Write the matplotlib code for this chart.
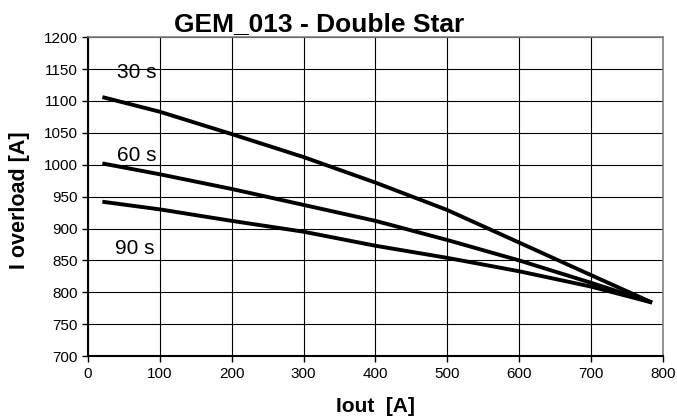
import matplotlib
matplotlib.use('Agg')
from matplotlib import pyplot as plt
import numpy as np

# Data
iout = [20, 100, 200, 300, 400, 500, 600, 700, 785]
i_30s = [1106, 1083, 1048, 1012, 972, 929, 878, 827, 784]
i_60s = [1002, 985, 962, 937, 912, 882, 850, 815, 784]
i_90s = [942, 930, 912, 895, 873, 854, 833, 809, 784]

curve_labels = ['30 s', '60 s', '90 s']
label_pos = [(40, 1145), (40, 1015), (38, 868)]

x_ticks = np.arange(0, 801, 100)
y_ticks = np.arange(700, 1201, 50)

plt.rcParams['font.family'] = ['Liberation Sans', 'DejaVu Sans']

fig = plt.figure(figsize=(6.77, 4.17), dpi=100)
ax = fig.add_axes([0.130, 0.146, 0.849, 0.765])

for series in (i_30s, i_60s, i_90s):
    ax.plot(iout, series, color='black', linewidth=2.8, solid_capstyle='butt', zorder=3)

for text, (tx, ty) in zip(curve_labels, label_pos):
    ax.text(tx, ty, text, fontsize=15, ha='left', va='center', zorder=4)

ax.set_xlim(0, 800)
ax.set_ylim(700, 1200)
ax.set_xticks(x_ticks)
ax.set_yticks(y_ticks)
ax.tick_params(direction='out', length=4, width=1, labelsize=11, colors='black')
ax.grid(True, color='black', linewidth=0.8)
ax.set_axisbelow(True)

for side in ('top', 'right'):
    ax.spines[side].set_color('#808080')
    ax.spines[side].set_linewidth(1.2)
for side in ('left', 'bottom'):
    ax.spines[side].set_color('black')
    ax.spines[side].set_linewidth(1.5)

fig.text(0.472, 0.942, 'GEM_013 - Double Star', ha='center', va='center',
         fontsize=19, fontweight='bold')
fig.text(0.555, 0.025, 'Iout  [A]', ha='center', va='center',
         fontsize=15, fontweight='bold')
fig.text(0.029, 0.52, 'I overload [A]', ha='center', va='center',
         rotation=90, fontsize=15.5, fontweight='bold')

plt.savefig('out.png', dpi=100)
